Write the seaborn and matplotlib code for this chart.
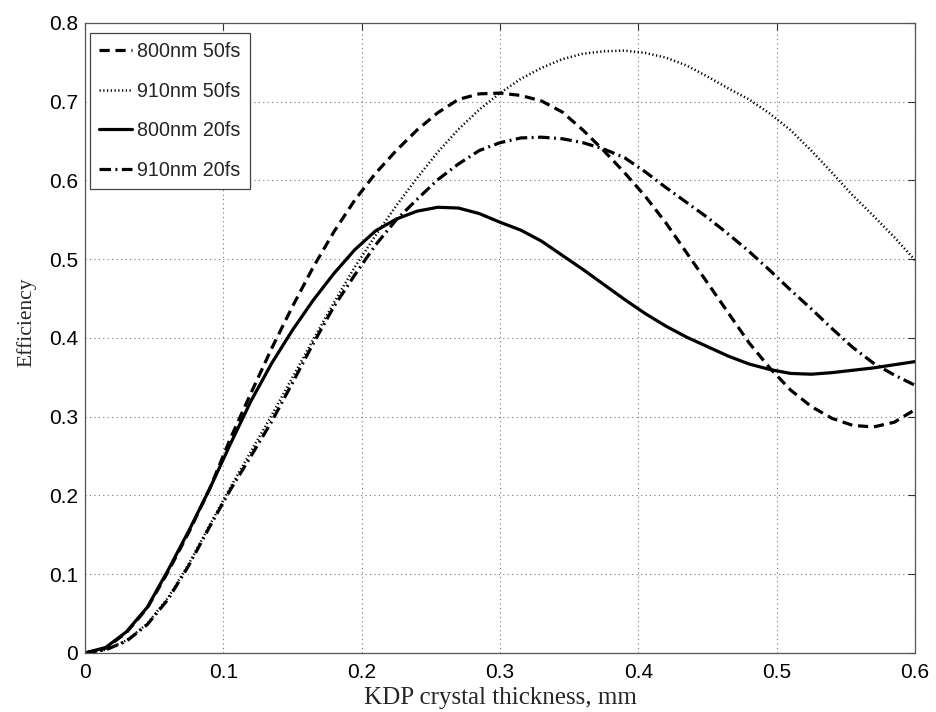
import pandas as pd
import matplotlib.pyplot as plt
import matplotlib.ticker as mticker
import seaborn as sns

# Conversion efficiency vs. KDP crystal thickness
thickness = [0.0, 0.015, 0.03, 0.045, 0.06, 0.075, 0.09, 0.105, 0.12, 0.135,
             0.15, 0.165, 0.18, 0.195, 0.21, 0.225, 0.24, 0.255, 0.27, 0.285,
             0.3, 0.315, 0.33, 0.345, 0.36, 0.375, 0.39, 0.405, 0.42, 0.435,
             0.45, 0.465, 0.48, 0.495, 0.51, 0.525, 0.54, 0.555, 0.57, 0.585, 0.6]

eff_800_50 = [0.0, 0.006, 0.026, 0.057, 0.103, 0.153, 0.208, 0.272, 0.33, 0.387,
              0.44, 0.49, 0.535, 0.575, 0.609, 0.638, 0.664, 0.686, 0.703, 0.71,
              0.711, 0.708, 0.701, 0.687, 0.664, 0.638, 0.61, 0.58, 0.546, 0.508,
              0.47, 0.432, 0.394, 0.362, 0.334, 0.313, 0.298, 0.289, 0.287, 0.293, 0.309]
eff_910_50 = [0.0, 0.004, 0.016, 0.037, 0.07, 0.113, 0.162, 0.21, 0.256, 0.302,
              0.35, 0.398, 0.445, 0.49, 0.53, 0.568, 0.603, 0.636, 0.665, 0.69,
              0.711, 0.729, 0.743, 0.754, 0.761, 0.764, 0.765, 0.762, 0.756, 0.746,
              0.732, 0.717, 0.703, 0.685, 0.664, 0.638, 0.61, 0.581, 0.555, 0.528, 0.499]
eff_800_20 = [0.0, 0.007, 0.027, 0.058, 0.105, 0.155, 0.208, 0.265, 0.32, 0.368,
              0.41, 0.448, 0.482, 0.512, 0.536, 0.551, 0.561, 0.566, 0.565, 0.558,
              0.547, 0.537, 0.523, 0.505, 0.487, 0.468, 0.449, 0.431, 0.415, 0.401,
              0.389, 0.377, 0.367, 0.36, 0.355, 0.354, 0.356, 0.359, 0.362, 0.366, 0.37]
eff_910_20 = [0.0, 0.004, 0.015, 0.036, 0.068, 0.111, 0.16, 0.207, 0.25, 0.294,
              0.343, 0.393, 0.44, 0.48, 0.518, 0.55, 0.576, 0.601, 0.621, 0.638,
              0.648, 0.654, 0.655, 0.653, 0.648, 0.64, 0.629, 0.611, 0.591, 0.572,
              0.553, 0.532, 0.51, 0.486, 0.461, 0.437, 0.412, 0.388, 0.368, 0.353, 0.34]

labels = ['800nm 50fs', '910nm 50fs', '800nm 20fs', '910nm 20fs']

df = pd.DataFrame({'thickness': thickness,
                   labels[0]: eff_800_50,
                   labels[1]: eff_910_50,
                   labels[2]: eff_800_20,
                   labels[3]: eff_910_20})
df = df.melt(id_vars='thickness', var_name='case', value_name='efficiency')

# MATLAB-ish look
sns.set_style('white')
plt.rcParams['font.family'] = ['Liberation Sans', 'DejaVu Sans']

fig = plt.figure(figsize=(9.37, 7.12), dpi=100)
ax = fig.add_axes([0.0907, 0.0829, 0.8858, 0.8848])

line_styles = {
    '800nm 50fs': dict(linestyle=(0, (3.2, 1.8)), linewidth=2.3),
    '910nm 50fs': dict(linestyle=(0, (0.5, 1.0)), linewidth=1.8),
    '800nm 20fs': dict(linestyle='-', linewidth=2.3),
    '910nm 20fs': dict(linestyle=(0, (3.6, 1.4, 0.6, 1.4)), linewidth=2.3),
}

for name in labels:
    sub = df[df['case'] == name]
    sns.lineplot(data=sub, x='thickness', y='efficiency', ax=ax, color='black',
                 label=name, **line_styles[name])

ax.set_xlim(0, 0.6)
ax.set_ylim(0, 0.8)
ax.xaxis.set_major_locator(mticker.MultipleLocator(0.1))
ax.yaxis.set_major_locator(mticker.MultipleLocator(0.1))
fmt = mticker.FuncFormatter(lambda v, p: f'{v:g}')
ax.xaxis.set_major_formatter(fmt)
ax.yaxis.set_major_formatter(fmt)

ax.grid(True, color='#777777', linestyle=(0, (1, 3)), linewidth=0.8)
ax.tick_params(direction='in', length=5, width=0.8, top=True, right=True,
               labelsize=15, colors='#333333', labelcolor='black')
ax.tick_params(axis='x', pad=7)
ax.tick_params(axis='y', pad=5)
for s in ax.spines.values():
    s.set_color('#555555')
    s.set_linewidth(0.9)

ax.set_xlabel('KDP crystal thickness, mm', family='Liberation Serif', fontsize=18, labelpad=4)
ax.set_ylabel('Efficiency', family='Liberation Serif', fontsize=15.5)
ax.yaxis.set_label_coords(-0.058, 0.525)

leg = ax.legend(loc='upper left', bbox_to_anchor=(0.006, 0.984), borderaxespad=0,
                fontsize=14.2, frameon=True, fancybox=False,
                edgecolor='#444444', framealpha=1, handlelength=1.7,
                handletextpad=0.25, labelspacing=1.05, borderpad=0.45)
leg.get_frame().set_linewidth(0.9)

plt.savefig('out.png', dpi=100)
